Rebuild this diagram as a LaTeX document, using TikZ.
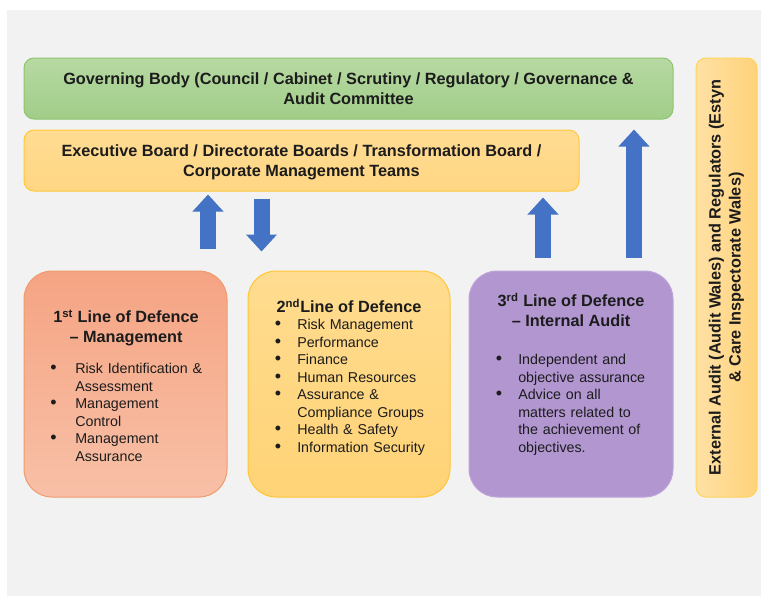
\documentclass[tikz,border=0pt]{standalone}
\usepackage{fontspec}
\setmainfont{Liberation Sans}
\usepackage{enumitem}
\usetikzlibrary{arrows.meta}

\definecolor{canvas}{HTML}{F2F2F2}
\definecolor{ink}{HTML}{1C1C1C}
\definecolor{govtop}{HTML}{B7D9A3}
\definecolor{govbottom}{HTML}{A0CD88}
\definecolor{govedge}{HTML}{8FC46F}
\definecolor{exectop}{HTML}{FFDC93}
\definecolor{execbottom}{HTML}{FFD683}
\definecolor{execedge}{HTML}{FFC93C}
\definecolor{firsttop}{HTML}{F5A483}
\definecolor{firstbottom}{HTML}{F8C0A7}
\definecolor{firstedge}{HTML}{EE9B6E}
\definecolor{secondtop}{HTML}{FFDC90}
\definecolor{secondbottom}{HTML}{FFD376}
\definecolor{secondedge}{HTML}{FFC633}
\definecolor{thirdfill}{HTML}{B196D0}
\definecolor{thirdedge}{HTML}{BDA5D9}
\definecolor{extleft}{HTML}{FFE1A4}
\definecolor{extright}{HTML}{FFD27B}
\definecolor{extedge}{HTML}{FFD45C}
\definecolor{arrowblue}{HTML}{4472C4}

\setlist[itemize]{label={\fontsize{13.5}{13}\selectfont\textbullet}, itemsep=0pt, topsep=0pt, parsep=0pt, partopsep=0pt}

\tikzset{
 panel/.style={draw, rounded corners=7.5pt, inner sep=0pt, line width=0.75pt},
 defence/.style={panel, rounded corners=21pt, minimum height=169.5pt},
 heading/.style={font=\bfseries\fontsize{12.2}{15}\selectfont, align=center, text=ink},
 points/.style={font=\fontsize{10.7}{13.1}\selectfont, text=ink, text width=165pt,
   align=left, inner sep=0pt, anchor=north west},
 blockarrow/.style={draw=arrowblue, line width=12pt,
   -{Triangle[width=22.5pt, length=12.75pt]}},
}

\begin{document}
\begin{tikzpicture}[x=0.75pt, y=-0.75pt]
    \useasboundingbox (0,0) rectangle (761,596);
    \fill[white] (0,0) rectangle (761,596);
    \fill[canvas] (7,10) rectangle (761,596);

    % boards along the top
    \node[panel, draw=govedge, top color=govtop, bottom color=govbottom,
          minimum width=486.75pt, minimum height=45.75pt] (governing) at (348.5, 88.5) {};
    \node[heading] at (governing.center)
          {Governing Body (Council / Cabinet / Scrutiny / Regulatory / Governance \&\\ Audit Committee};

    \node[panel, draw=execedge, top color=exectop, bottom color=execbottom,
          minimum width=416.25pt, minimum height=45.75pt] (exec) at (301.5, 160.5) {};
    \node[heading] at (301.5, 162)
          {Executive Board / Directorate Boards / Transformation Board /\\ Corporate Management Teams};

    % external audit down the right side
    \node[panel, draw=extedge, left color=extleft, right color=extright,
          minimum width=45.75pt, minimum height=329.25pt] (external) at (726.5, 277.5) {};
    \node[heading, rotate=90] at (external.center)
          {External Audit (Audit Wales) and Regulators (Estyn\\ \& Care Inspectorate Wales)};

    % three lines of defence
    \node[defence, draw=firstedge, top color=firsttop, bottom color=firstbottom,
          minimum width=152.25pt] (line1) at (125.5, 384) {};
    \node[heading] at (126, 328) {1\textsuperscript{st} Line of Defence\\ -- Management};
    \node[points] at (50, 356) {\begin{itemize}[leftmargin=18.75pt, labelsep=14pt]
        \item Risk Identification \&\\ Assessment
        \item Management\\ Control
        \item Management\\ Assurance
    \end{itemize}};

    \node[defence, draw=secondedge, top color=secondtop, bottom color=secondbottom,
          minimum width=151.5pt] (line2) at (349, 384) {};
    \node[heading] at (349, 306) {2\textsuperscript{nd}Line of Defence};
    \node[points] at (275, 312) {\begin{itemize}[leftmargin=16.5pt, labelsep=12pt]
        \item Risk Management
        \item Performance
        \item Finance
        \item Human Resources
        \item Assurance \&\\ Compliance Groups
        \item Health \& Safety
        \item Information Security
    \end{itemize}};

    \node[defence, draw=thirdedge, fill=thirdfill,
          minimum width=153pt] (line3) at (571, 384) {};
    \node[heading] at (571, 310) {3\textsuperscript{rd} Line of Defence\\ -- Internal Audit};
    \node[points] at (496, 347) {\begin{itemize}[leftmargin=16.5pt, labelsep=12pt]
        \item Independent and\\ objective assurance
        \item Advice on all\\ matters related to\\ the achievement of\\ objectives.
    \end{itemize}};

    % reporting arrows
    \draw[blockarrow, shorten <=16.5pt, shorten >=2.25pt] (208,0 |- line1.north) -- (208,0 |- exec.south);
    \draw[blockarrow, shorten <=5.25pt, shorten >=14.25pt] (261.5,0 |- exec.south) -- (261.5,0 |- line2.north);
    \draw[blockarrow, shorten <=9.75pt, shorten >=4.5pt] (543,0 |- line3.north) -- (543,0 |- exec.south);
    \draw[blockarrow, shorten <=9.75pt, shorten >=7.5pt] (634,0 |- line3.north) -- (634,0 |- governing.south);
\end{tikzpicture}
\end{document}
